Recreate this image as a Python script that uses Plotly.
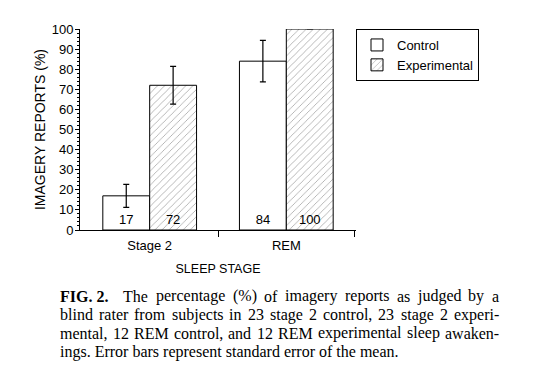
import plotly.graph_objects as go

categories = ["Stage 2", "REM"]
control_values = [17, 84]
experimental_values = [72, 100]
control_err = [5.7, 10.3]
experimental_err = [9.4, 0]
y_ticks = [0, 10, 20, 30, 40, 50, 60, 70, 80, 90, 100]

caption_label = "FIG. 2."
caption_lines = [
    "The percentage (%) of imagery reports as judged by a",
    "blind rater from subjects in 23 stage 2 control, 23 stage 2 experi-",
    "mental, 12 REM control, and 12 REM experimental sleep awaken-",
    "ings. Error bars represent standard error of the mean.",
]

xpos = list(range(len(categories)))
sans = "Liberation Sans, Arial, sans-serif"
serif = "Liberation Serif, Times New Roman, serif"

# page body has an 8px margin; the figure is sized to fill the rest
W, H = 527, 363
L, T, PW, PH = 72, 21, 276, 201

fig = go.Figure()
fig.add_trace(go.Bar(
    x=xpos, y=control_values, name="Control",
    marker=dict(color="white", line=dict(color="black", width=1)),
    error_y=dict(type="data", array=control_err, visible=True,
                 color="black", thickness=1.2, width=3),
    text=[str(v) for v in control_values], textposition="inside",
    insidetextanchor="start", textangle=0,
    textfont=dict(color="black", size=13, family=sans),
))
fig.add_trace(go.Bar(
    x=xpos, y=experimental_values, name="Experimental",
    marker=dict(color="white", line=dict(color="black", width=1),
                pattern=dict(shape="/", fgcolor="#444", bgcolor="white",
                             size=5, solidity=0.15)),
    error_y=dict(type="data", array=experimental_err, visible=True,
                 color="black", thickness=1.2, width=3),
    text=[str(v) for v in experimental_values], textposition="inside",
    insidetextanchor="start", textangle=0,
    textfont=dict(color="black", size=13, family=sans),
))

fig.update_layout(
    width=W, height=H,
    margin=dict(l=L, r=W - L - PW, t=T, b=H - T - PH, pad=0),
    paper_bgcolor="white", plot_bgcolor="white",
    barmode="group", bargap=0.314, bargroupgap=0,
    font=dict(family=sans, size=13, color="black"),
    showlegend=True,
    legend=dict(x=1.0, y=1.0, xanchor="left", yanchor="top",
                bordercolor="black", borderwidth=1, bgcolor="white",
                font=dict(size=13, family=sans), itemwidth=30,
                tracegroupgap=0),
    xaxis=dict(range=[-0.51, 1.51], tickvals=xpos, ticktext=categories,
               ticks="", showline=True, linecolor="black", linewidth=1,
               showgrid=False, zeroline=False, fixedrange=True,
               automargin=False, ticklabelstandoff=3,
               minor=dict(tickvals=[0.5, 1.5], ticks="outside", ticklen=6,
                          tickcolor="black", tickwidth=1, showgrid=False),
               title=dict(text="SLEEP STAGE", standoff=12,
                          font=dict(size=12.5, family=sans)),
               tickfont=dict(size=13, family=sans)),
    yaxis=dict(range=[0, 100], tickvals=y_ticks, ticks="outside", ticklen=4,
               tickcolor="black", showline=True, linecolor="black",
               linewidth=1, showgrid=False, zeroline=False,
               automargin=False, ticklabelstandoff=-1,
               minor=dict(dtick=2, ticks="outside", ticklen=2,
                          tickcolor="black", showgrid=False),
               title=dict(text="IMAGERY REPORTS (%)", standoff=2,
                          font=dict(size=14, family=sans)),
               tickfont=dict(size=13, family=sans)),
)

# ---- justified caption (Times metrics, 1/1000 em) ----
TIMES = {' ': 250, '%': 833, '(': 333, ')': 333, ',': 250, '-': 333, '.': 250,
         'A': 722, 'E': 611, 'F': 556, 'G': 722, 'I': 333, 'M': 889, 'R': 667,
         'T': 611,
         'a': 444, 'b': 500, 'c': 444, 'd': 500, 'e': 444, 'f': 333, 'g': 500,
         'h': 500, 'i': 278, 'j': 278, 'k': 500, 'l': 278, 'm': 778, 'n': 500,
         'o': 500, 'p': 500, 'q': 500, 'r': 333, 's': 389, 't': 278, 'u': 500,
         'v': 500, 'w': 722, 'x': 500, 'y': 500, 'z': 444}
TIMES_BOLD = {' ': 250, '.': 250, 'F': 611, 'I': 389, 'G': 778, '2': 500}
FS = 16


def width(s, table):
    return sum(table.get(c, 500) for c in s) * FS / 1000.0


X0, X1 = 59, 498            # page pixels of the text block
line_y = [296, 314.5, 333, 351.5]


def px_to_paper_x(px):
    return (px - 8 - L) / PW


def px_to_paper_y(py):
    return (T + PH - (py - 8)) / PH


def put(txt, px, py):
    fig.add_annotation(
        text=txt, xref="paper", yref="paper",
        x=px_to_paper_x(px), y=px_to_paper_y(py),
        xanchor="left", yanchor="middle", showarrow=False,
        borderpad=0, font=dict(family=serif, size=FS, color="black"),
    )


for i, (line, yy) in enumerate(zip(caption_lines, line_y)):
    words = line.split(" ")
    if i == len(caption_lines) - 1:
        put(line, X0, yy)
        continue
    tokens = []
    if i == 0:
        tokens.append(("<b>" + caption_label + "</b>",
                       width(caption_label, TIMES_BOLD), 2.0))
    for w in words:
        tokens.append((w, width(w, TIMES), 1.0))
    natural = sum(t[1] for t in tokens)
    gap_weights = sum(t[2] for t in tokens[:-1])
    unit = (X1 - X0 - natural) / gap_weights
    x = X0
    for txt, w, g in tokens:
        put(txt, x, yy)
        x += w + unit * g

fig.write_html("out.html")
